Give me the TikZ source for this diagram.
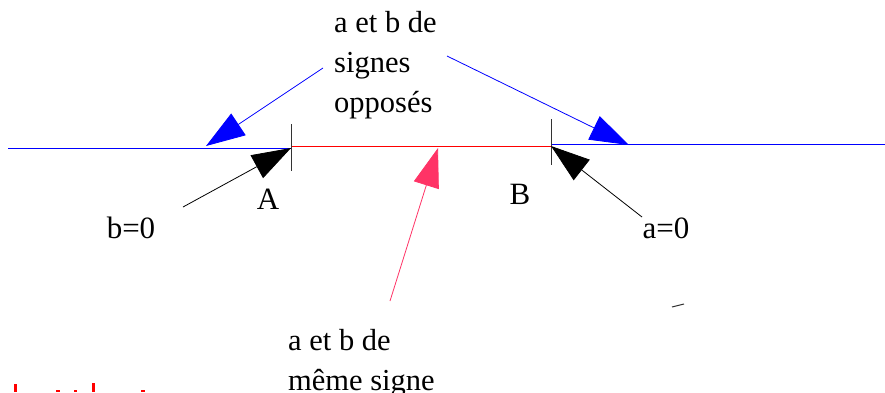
\documentclass[tikz,border=0pt]{standalone}
\usepackage{fontspec}
\setmainfont{Liberation Serif}
\newfontfamily\lblfont{Liberation Serif}
\usetikzlibrary{arrows.meta}
\definecolor{pinkred}{HTML}{FF3366}
\definecolor{axisblue}{HTML}{0000FF}
\tikzset{
  bigtri/.style={-{Triangle[length=39pt,width=26pt]}, line width=0.8pt},
  axis/.style={line width=1pt},
  blk/.style={align=left, inner sep=0pt, font=\fontsize{30.5}{40}\selectfont},
  lbl/.style={inner sep=0pt, font=\lblfont\fontsize{31}{36}\selectfont},
}
\begin{document}
\begin{tikzpicture}[x=1pt,y=-1pt]
\useasboundingbox (0,0) rectangle (885,392);
% axis points
\coordinate (L0) at (8,148.5);
\coordinate (A) at (291,148.5);
\coordinate (Ar) at (291,146);
\coordinate (Bl) at (551,146);
\coordinate (B) at (551,144.5);
\coordinate (R0) at (885,144.5);
\coordinate (Atop) at (291.5,124);
\coordinate (Abot) at (291.5,171);
\coordinate (Btop) at (551.5,119);
\coordinate (Bbot) at (551.5,165);
% lines
\draw[axis, axisblue] (L0) -- (A);
\draw[axis, red] (Ar) -- (Bl);
\draw[axis, axisblue] (B) -- (R0);
\draw[black!80, line width=1pt] (Atop) -- (Abot);
\draw[black!80, line width=1pt] (Btop) -- (Bbot);
% texts
\node[blk, anchor=base west] (opp) at (334,112) {a et b de\\signes\\opposés};
\node[blk, anchor=base west] (meme) at (288,390) {a et b de\\même signe};
\node[lbl] (labA) at (268,199) {A};
\node[lbl] (labB) at (520,194) {B};
\node[lbl] (b0) at (131,228) {b=0};
\node[lbl] (a0) at (666,228) {a=0};
% arrow coordinates
\coordinate (s1) at (323,68);
\coordinate (t1) at (206,146);
\coordinate (s2) at (447,56);
\coordinate (t2) at (629,145);
\coordinate (s3) at (183,207);
\coordinate (t3) at (291,148);
\coordinate (s4) at (642,217);
\coordinate (t4) at (551,146);
\coordinate (s5) at (390,301);
\coordinate (t5) at (438,148);
\draw[bigtri, axisblue] (s1) -- (t1);
\draw[bigtri, axisblue] (s2) -- (t2);
\draw[bigtri, black] (s3) -- (t3);
\draw[bigtri, black] (s4) -- (t4);
\draw[bigtri, pinkred] (s5) -- (t5);
% small dash
\coordinate (d1) at (672,307);
\coordinate (d2) at (684,304);
\draw[black!80, line width=1pt] (d1) -- (d2);
% red fragments at bottom left
\fill[red] (14,384) rectangle (17,392);
\fill[red] (92,383) rectangle (95,392);
\fill[red] (56,390) rectangle (60,392);
\fill[red] (74,390) rectangle (77,392);
\fill[red] (141,390) rectangle (145,392);
\end{tikzpicture}
\end{document}
